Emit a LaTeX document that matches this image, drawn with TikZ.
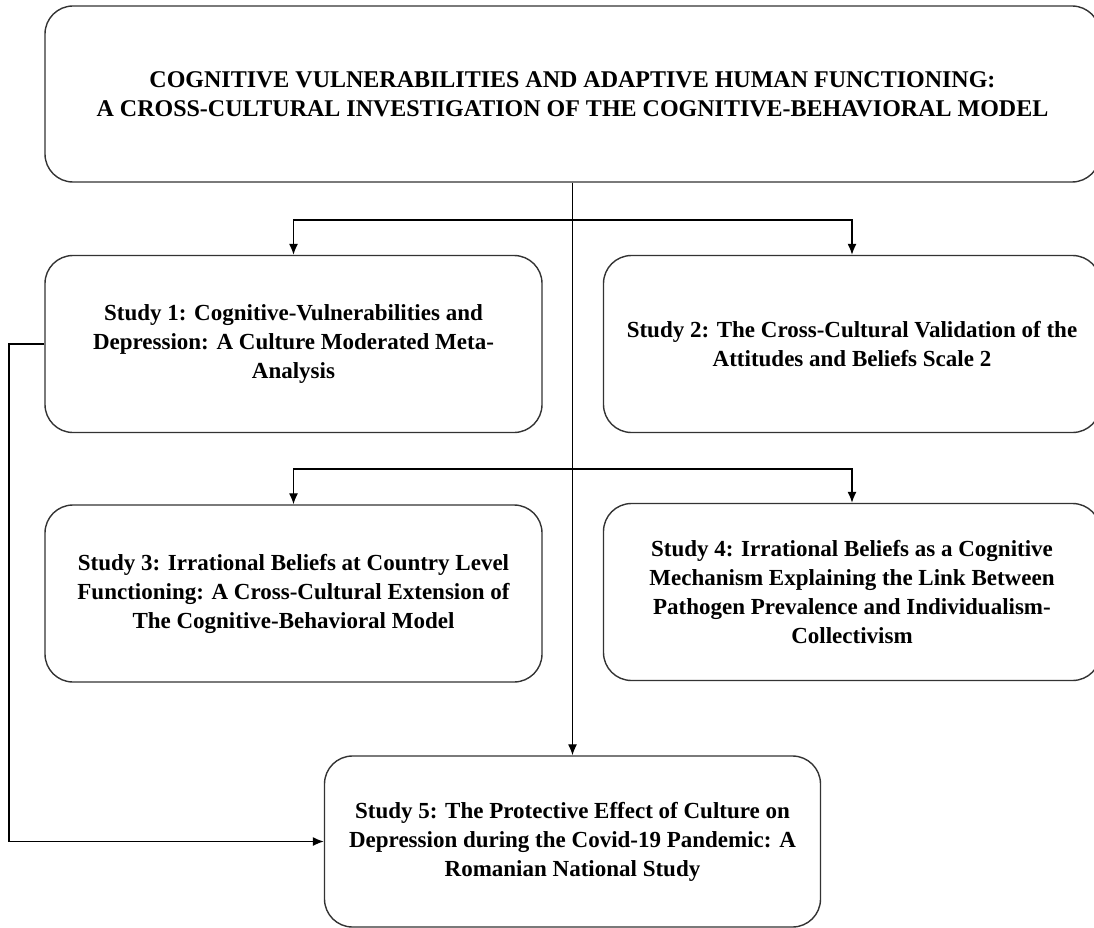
\documentclass[tikz,border=0pt]{standalone}
\usepackage{fontspec}
\setmainfont{Liberation Serif}
\usetikzlibrary{arrows.meta}
\tikzset{
  study/.style={draw=black!80,line width=1.4pt,rounded corners=28pt,
    minimum width=497pt,minimum height=177pt,align=center,
    font=\bfseries\fontsize{23}{29}\selectfont},
}
\begin{document}
\begin{tikzpicture}[x=1pt,y=-1pt,>={Latex[length=11pt,width=9pt]},line width=1.3pt]
\useasboundingbox (0,0) rectangle (1094,928);
\node[study,minimum width=1055pt,minimum height=176pt,font=\bfseries\fontsize{24}{29}\selectfont] (top) at (572.5,94)
  {COGNITIVE VULNERABILITIES AND ADAPTIVE HUMAN FUNCTIONING:\\
   A CROSS-CULTURAL INVESTIGATION OF THE COGNITIVE-BEHAVIORAL MODEL};
\node[study] (s1) at (293.5,344) {Study 1: Cognitive-Vulnerabilities and\\
  Depression: A Culture Moderated Meta-\\ Analysis};
\node[study] (s2) at (852,344) {Study 2: The Cross-Cultural Validation of the\\
  Attitudes and Beliefs Scale 2};
\node[study] (s3) at (293.5,593.5) {Study 3: Irrational Beliefs at Country Level\\
  Functioning: A Cross-Cultural Extension of\\ The Cognitive-Behavioral Model};
\node[study] (s4) at (852,592) {Study 4: Irrational Beliefs as a Cognitive\\
  Mechanism Explaining the Link Between\\ Pathogen Prevalence and Individualism-\\ Collectivism};
\node[study,minimum width=496pt,minimum height=171pt] (s5) at (572.5,841.5)
  {Study 5: The Protective Effect of Culture on\\
  Depression during the Covid-19 Pandemic: A\\ Romanian National Study};
% connectors
\coordinate (j1) at (572.5,220);
\coordinate (j2) at (572.5,469);
\coordinate (bend) at (9,344);
\draw[->] (top.south) -- (s5.north);
\draw[->] (j1) -| (s1.north);
\draw[->] (j1) -| (s2.north);
\draw[->] (j2) -| (s3.north);
\draw[->] (j2) -| (s4.north);
\draw[->] (s1.west) -- (bend) |- (s5.west);
\end{tikzpicture}
\end{document}
